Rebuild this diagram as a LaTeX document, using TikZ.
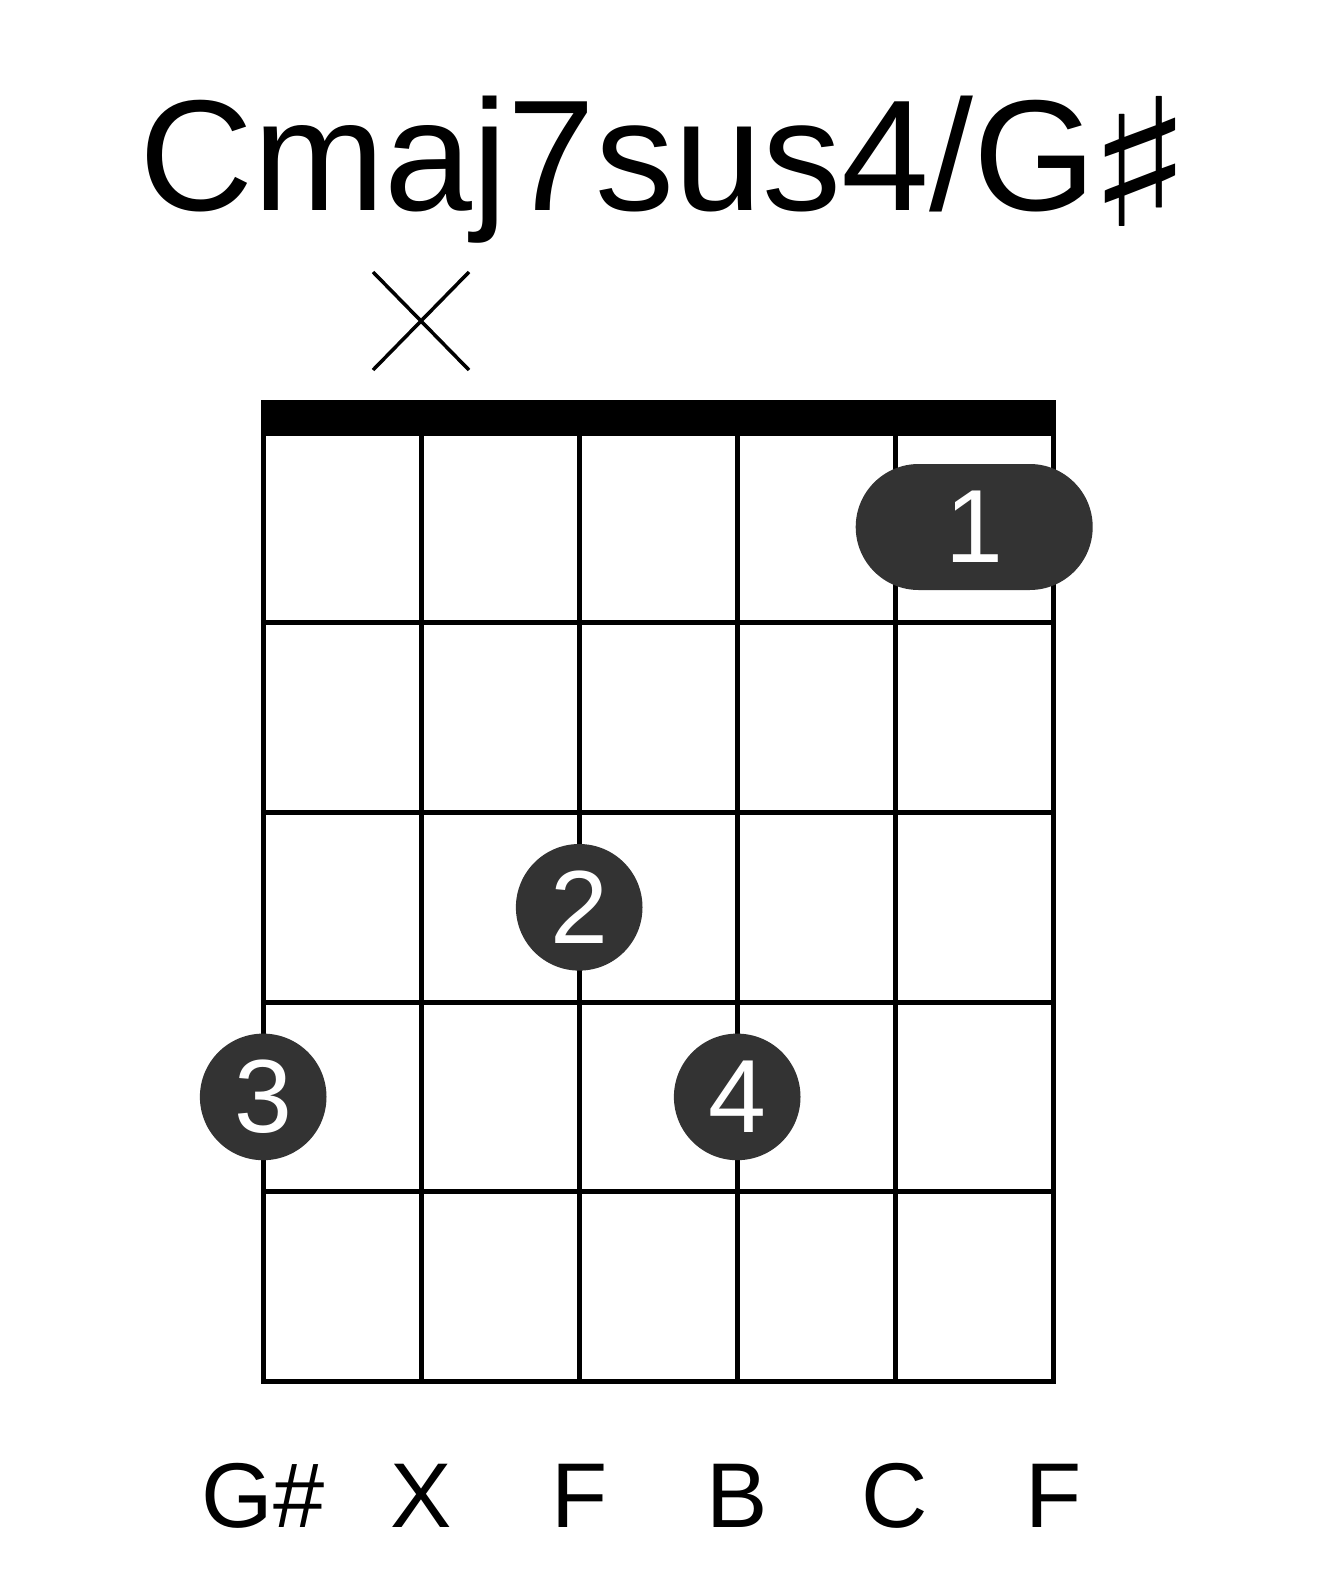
\documentclass[tikz,border=0pt]{standalone}
\usepackage{fontspec}
\setmainfont{Liberation Sans}
\newfontfamily\symfont{DejaVu Sans}
\definecolor{dotgray}{HTML}{333333}
\tikzset{
  gridline/.style={line width=5pt, black},
  finger/.style={circle, fill=dotgray, text=white, minimum size=126.6pt, inner sep=0pt,
    font=\fontsize{104pt}{110pt}\selectfont},
  barre/.style={rectangle, rounded corners=63pt, fill=dotgray, text=white, minimum width=237pt,
    minimum height=126pt, inner sep=0pt, font=\fontsize{104pt}{110pt}\selectfont},
  notelabel/.style={anchor=base, inner sep=0pt, font=\fontsize{92pt}{96pt}\selectfont},
  mutemark/.style={line width=3.5pt, black}
}
\begin{document}
\begin{tikzpicture}[x=1pt,y=-1pt]
\useasboundingbox (0,0) rectangle (1317,1581);
% title
\node[anchor=base west, inner sep=0pt, font=\fontsize{158pt}{160pt}\selectfont] (title) at (139,210)
  {Cmaj7sus4/G\hspace{-10pt}\raisebox{-17pt}{\scalebox{1.25}[1]{\symfont\fontsize{178pt}{180pt}\selectfont ♯}}};
% nut
\fill[black] (260.7,400) rectangle (1055.7,433.3);
% grid
\draw[gridline] (263.2,433.3) rectangle (1053.3,1381.3);
\foreach \i in {1,...,4} {
  \draw[gridline] ({263.2+158*\i},433.3) -- ({263.2+158*\i},1381.3);
  \draw[gridline] (263.2,{433.3+189.6*\i}) -- (1053.3,{433.3+189.6*\i});
}
% mute mark
\coordinate (m1) at (373,272);
\coordinate (m2) at (469,370);
\coordinate (m3) at (469,272);
\coordinate (m4) at (373,370);
\draw[mutemark] (m1) -- (m2);
\draw[mutemark] (m3) -- (m4);
% fingers
\node[barre] (f1) at (974.2,527) {1};
\node[finger] (f2) at (579.2,907.3) {2};
\node[finger] (f3) at (263.2,1096.9) {3};
\node[finger] (f4) at (737.2,1096.9) {4};
% note labels
\node[notelabel] (n1) at (263.2,1527) {G\#};
\node[notelabel] (n2) at (421.2,1527) {X};
\node[notelabel] (n3) at (579.2,1527) {F};
\node[notelabel] (n4) at (737.2,1527) {B};
\node[notelabel] (n5) at (895.2,1527) {C};
\node[notelabel] (n6) at (1053.3,1527) {F};
\end{tikzpicture}
\end{document}
